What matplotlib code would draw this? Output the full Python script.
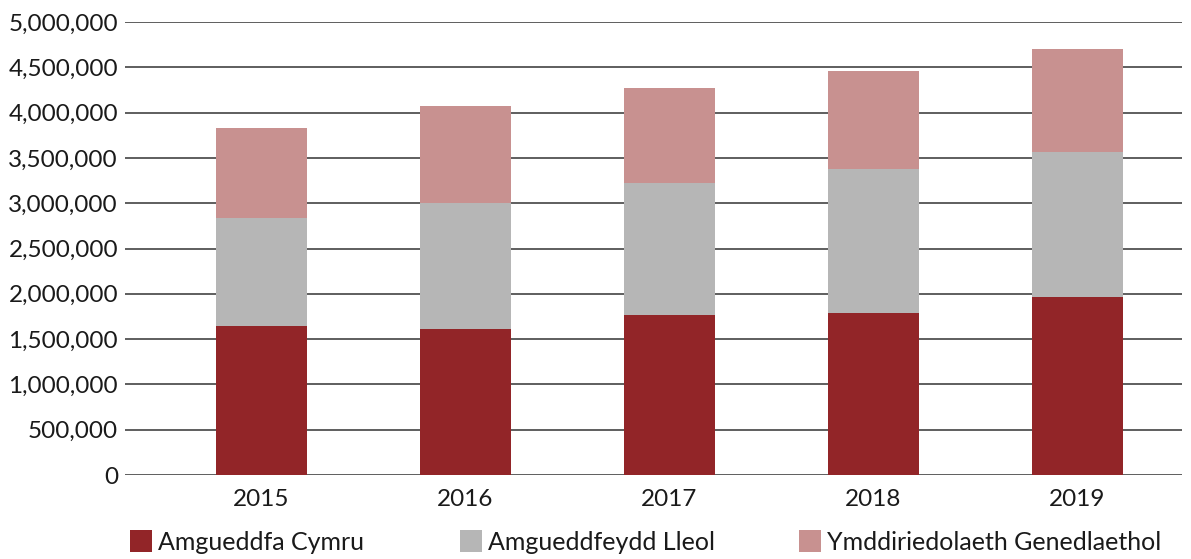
import matplotlib
matplotlib.use("Agg")
import matplotlib.pyplot as plt
from matplotlib.patches import Rectangle
from matplotlib.ticker import FuncFormatter
import numpy as np

years = ["2015", "2016", "2017", "2018", "2019"]
amgueddfa_cymru = [1645000, 1611000, 1766000, 1788000, 1965000]
amgueddfeydd_lleol = [1192000, 1391000, 1453000, 1589000, 1600000]
ymddiriedolaeth = [993000, 1071000, 1052000, 1082000, 1137000]
series_names = ["Amgueddfa Cymru", "Amgueddfeydd Lleol", "Ymddiriedolaeth Genedlaethol"]
colors = ["#922528", "#b6b6b6", "#c89190"]
yticks = list(range(0, 5000001, 500000))

plt.rcParams['font.family'] = ['Lato', 'DejaVu Sans']

W, H = 1191, 559
fig = plt.figure(figsize=(W / 100, H / 100), dpi=100)
ax = fig.add_axes([125 / W, 1 - 475 / H, (1182 - 125) / W, (475 - 22) / H])

x = np.arange(len(years))
bottom = np.zeros(len(years))
for vals, c, name in zip([amgueddfa_cymru, amgueddfeydd_lleol, ymddiriedolaeth], colors, series_names):
    ax.bar(x, vals, width=0.446, bottom=bottom, color=c, label=name, zorder=3)
    bottom += np.array(vals)

ax.set_ylim(0, 5000000)
ax.set_xlim(-0.669, -0.669 + 1057 / 204)
ax.set_yticks(yticks)
ax.yaxis.set_major_formatter(FuncFormatter(lambda v, p: f"{int(v):,}"))
ax.set_xticks(x)
ax.set_xticklabels(years)
ax.grid(axis='y', color='#333333', linewidth=1.1, zorder=0)
for s in ax.spines.values():
    s.set_visible(False)
ax.tick_params(axis='both', length=0, labelsize=17.5, colors='#1a1a1a')
ax.tick_params(axis='y', pad=5)
ax.tick_params(axis='x', pad=10)

# legend
leg_sq = [130, 460, 799]
for xp, c, name in zip(leg_sq, colors, series_names):
    fig.patches.append(Rectangle((xp / W, 1 - 552 / H), 22 / W, 22 / H,
                                 transform=fig.transFigure, facecolor=c, edgecolor='none'))
    fig.text((xp + 28) / W, 1 - 542 / H, name, fontsize=18, color='#1a1a1a', va='center', ha='left')

fig.savefig("out.png", dpi=100)
